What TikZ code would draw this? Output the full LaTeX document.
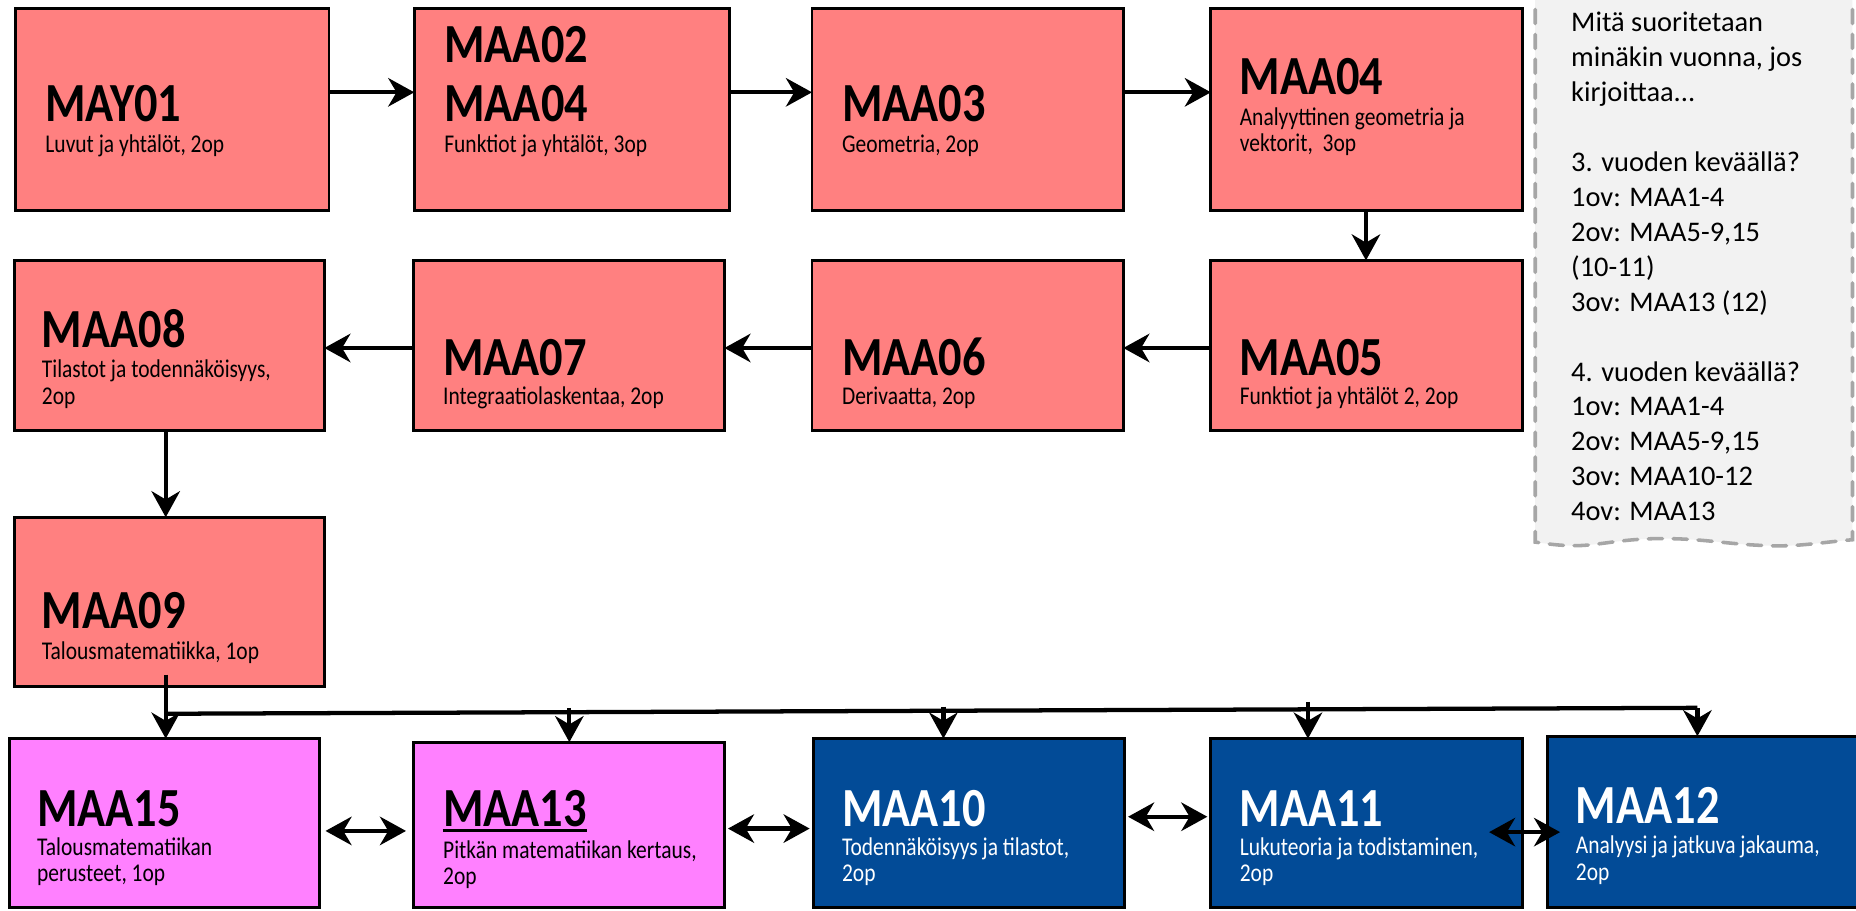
\documentclass[tikz,border=0pt]{standalone}
\usepackage{fontspec}
\setmainfont{Carlito}
\newfontfamily\condf{Carlito}[FakeStretch=0.84]
\usetikzlibrary{arrows.meta,fit}
\definecolor{salmon}{HTML}{FF8080}
\definecolor{pinkc}{HTML}{FF80FF}
\definecolor{navyc}{HTML}{024B97}
\definecolor{notefill}{HTML}{F2F2F2}
\definecolor{notedash}{HTML}{A6A6A6}
\begin{document}
\begin{tikzpicture}[x=0.5pt,y=-0.5pt,
  box/.style={draw=black, line width=1.2pt, inner sep=0pt, outer sep=0pt},
  redbox/.style={box, fill=salmon},
  pinkbox/.style={box, fill=pinkc},
  bluebox/.style={box, fill=navyc},
  ttl/.style={anchor=base west, inner sep=0pt, font=\condf\bfseries\fontsize{23.3pt}{28pt}\selectfont},
  sub/.style={anchor=base west, inner sep=0pt, font=\condf\fontsize{10.8pt}{12pt}\selectfont},
  tip/.tip={Stealth[length=11pt,width=12pt,inset=3.5pt]},
  arr/.style={line width=1.8pt, -tip},
  darr/.style={line width=1.8pt, tip-tip},
  ln/.style={line width=1.8pt},
  notetext/.style={anchor=north west, inner sep=0pt, align=left, font=\fontsize{12pt}{14.75pt}\selectfont},
]
\useasboundingbox (0,0) rectangle (1568,769);

% note box
\fill[notefill] (1297,-5) -- (1565,-5) -- (1565,456)
  .. controls (1540,458) and (1520,462) .. (1494,461)
  .. controls (1460,460) and (1440,455) .. (1404,455)
  .. controls (1370,455) and (1350,461) .. (1331,461)
  .. controls (1315,461) and (1305,459) .. (1297,458) -- cycle;
\draw[notedash, line width=1.5pt, dash pattern=on 6pt off 4.5pt, line cap=round]
  (1297,8) -- (1297,458)
  .. controls (1305,459) and (1315,461) .. (1331,461)
  .. controls (1350,461) and (1370,455) .. (1404,455)
  .. controls (1440,455) and (1460,460) .. (1494,461)
  .. controls (1520,462) and (1540,458) .. (1565,456) -- (1565,8);
\node[notetext] (note) at (1327,10) {Mitä suoritetaan\\minäkin vuonna, jos\\kirjoittaa...\\\mbox{}\\3. vuoden keväällä?\\1ov: MAA1-4\\2ov: MAA5-9,15\\(10-11)\\3ov: MAA13 (12)\\\mbox{}\\4. vuoden keväällä?\\1ov: MAA1-4\\2ov: MAA5-9,15\\3ov: MAA10-12\\4ov: MAA13};

% boxes
\node[redbox, fit={(13,7) (278,178)}] (may01) {};
\node[redbox, fit={(350,7) (616,178)}] (maa02) {};
\node[redbox, fit={(686,7) (949,178)}] (maa03) {};
\node[redbox, fit={(1023,7) (1286,178)}] (maa04) {};
\node[redbox, fit={(12,220) (274,364)}] (maa08) {};
\node[redbox, fit={(349,220) (612,364)}] (maa07) {};
\node[redbox, fit={(686,220) (949,364)}] (maa06) {};
\node[redbox, fit={(1023,220) (1286,364)}] (maa05) {};
\node[redbox, fit={(12,437) (274,580)}] (maa09) {};
\node[pinkbox, fit={(8,624) (270,767)}] (maa15) {};
\node[pinkbox, fit={(349,627) (612,767)}] (maa13) {};
\node[bluebox, fit={(687,624) (950,767)}] (maa10) {};
\node[bluebox, fit={(1023,624) (1286,767)}] (maa11) {};
\node[bluebox, fit={(1307,622) (1580,767)}] (maa12) {};

% texts row 1
\node[ttl] (t01) at (38,103) {MAY01};
\node[sub] (s01) at (38,129) {Luvut ja yhtälöt, 2op};
\node[ttl] (t02a) at (375,53) {MAA02};
\node[ttl] (t02b) at (375,103) {MAA04};
\node[sub] (s02) at (375,129) {Funktiot ja yhtälöt, 3op};
\node[ttl] (t03) at (711,103) {MAA03};
\node[sub] (s03) at (711,129) {Geometria, 2op};
\node[ttl] (t04) at (1047,80) {MAA04};
\node[sub] (s04a) at (1047,106) {Analyyttinen geometria ja};
\node[sub] (s04b) at (1047,128) {vektorit,\ \ 3op};
% row 2
\node[ttl] (t08) at (35,294) {MAA08};
\node[sub] (s08a) at (35,319) {Tilastot ja todennäköisyys,};
\node[sub] (s08b) at (35,342) {2op};
\node[ttl] (t07) at (374,317) {MAA07};
\node[sub] (s07) at (374,342) {Integraatiolaskentaa, 2op};
\node[ttl] (t06) at (711,317) {MAA06};
\node[sub] (s06) at (711,342) {Derivaatta, 2op};
\node[ttl] (t05) at (1047,317) {MAA05};
\node[sub] (s05) at (1047,342) {Funktiot ja yhtälöt 2, 2op};
% row 3
\node[ttl] (t09) at (35,531) {MAA09};
\node[sub] (s09) at (35,557) {Talousmatematiikka, 1op};
% row 4
\node[ttl] (t15) at (31,698) {MAA15};
\node[sub] (s15a) at (31,723) {Talousmatematiikan};
\node[sub] (s15b) at (31,745) {perusteet, 1op};
\node[ttl] (t13) at (374,698) {MAA13};
\draw[line width=1.4pt] ([yshift=-1.9pt]t13.base west) -- ([yshift=-1.9pt]t13.base east);
\node[sub] (s13a) at (374,725) {Pitkän matematiikan kertaus,};
\node[sub] (s13b) at (374,747) {2op};
\node[ttl, text=white] (t10) at (711,698) {MAA10};
\node[sub, text=white] (s10a) at (711,723) {Todennäköisyys ja tilastot,};
\node[sub, text=white] (s10b) at (711,745) {2op};
\node[ttl, text=white] (t11) at (1047,698) {MAA11};
\node[sub, text=white] (s11a) at (1047,723) {Lukuteoria ja todistaminen,};
\node[sub, text=white] (s11b) at (1047,745) {2op};
\node[ttl, text=white] (t12) at (1331,696) {MAA12};
\node[sub, text=white] (s12a) at (1331,721) {Analyysi ja jatkuva jakauma,};
\node[sub, text=white] (s12b) at (1331,744) {2op};

% helper coordinates
\coordinate (ya) at (0,78);
\coordinate (yb) at (0,294);
\coordinate (vx1) at (1154,0);
\coordinate (vx2) at (140,0);
\coordinate (d1) at (0,702);
\coordinate (d2) at (0,700);
\coordinate (d3) at (0,690);
\coordinate (d4) at (0,703);

% connectors
\draw[arr] (may01.east |- ya) -- (maa02.west |- ya);
\draw[arr] (maa02.east |- ya) -- (maa03.west |- ya);
\draw[arr] (maa03.east |- ya) -- (maa04.west |- ya);
\draw[arr] (maa04.south -| vx1) -- (maa05.north -| vx1);
\draw[arr] (maa05.west |- yb) -- (maa06.east |- yb);
\draw[arr] (maa06.west |- yb) -- (maa07.east |- yb);
\draw[arr] (maa07.west |- yb) -- (maa08.east |- yb);
\draw[arr] (maa08.south -| vx2) -- (maa09.north -| vx2);

\coordinate (s9) at (140,570);
\coordinate (h0) at (140,603);
\coordinate (h1) at (1434,598);
\coordinate (c13) at (481,598);
\coordinate (c10) at (797,597);
\coordinate (c11) at (1105,593);
\draw[arr] (s9) -- (maa15.north -| s9);
\draw[ln] (h0) -- (h1);
\draw[arr] (c13) -- (maa13.north -| c13);
\draw[arr] (c10) -- (maa10.north -| c10);
\draw[arr] (c11) -- (maa11.north -| c11);
\draw[arr] (h1) -- (maa12.north -| h1);

\draw[darr, shorten <=2.5pt, shorten >=3pt] (maa15.east |- d1) -- (maa13.west |- d1);
\draw[darr, shorten <=1.5pt, shorten >=1.5pt] (maa13.east |- d2) -- (maa10.west |- d2);
\draw[darr, shorten <=1.5pt, shorten >=1.5pt] (maa10.east |- d3) -- (maa11.west |- d3);
\draw[darr, shorten <=-14pt, shorten >=-5.5pt] (maa11.east |- d4) -- (maa12.west |- d4);
\end{tikzpicture}
\end{document}
